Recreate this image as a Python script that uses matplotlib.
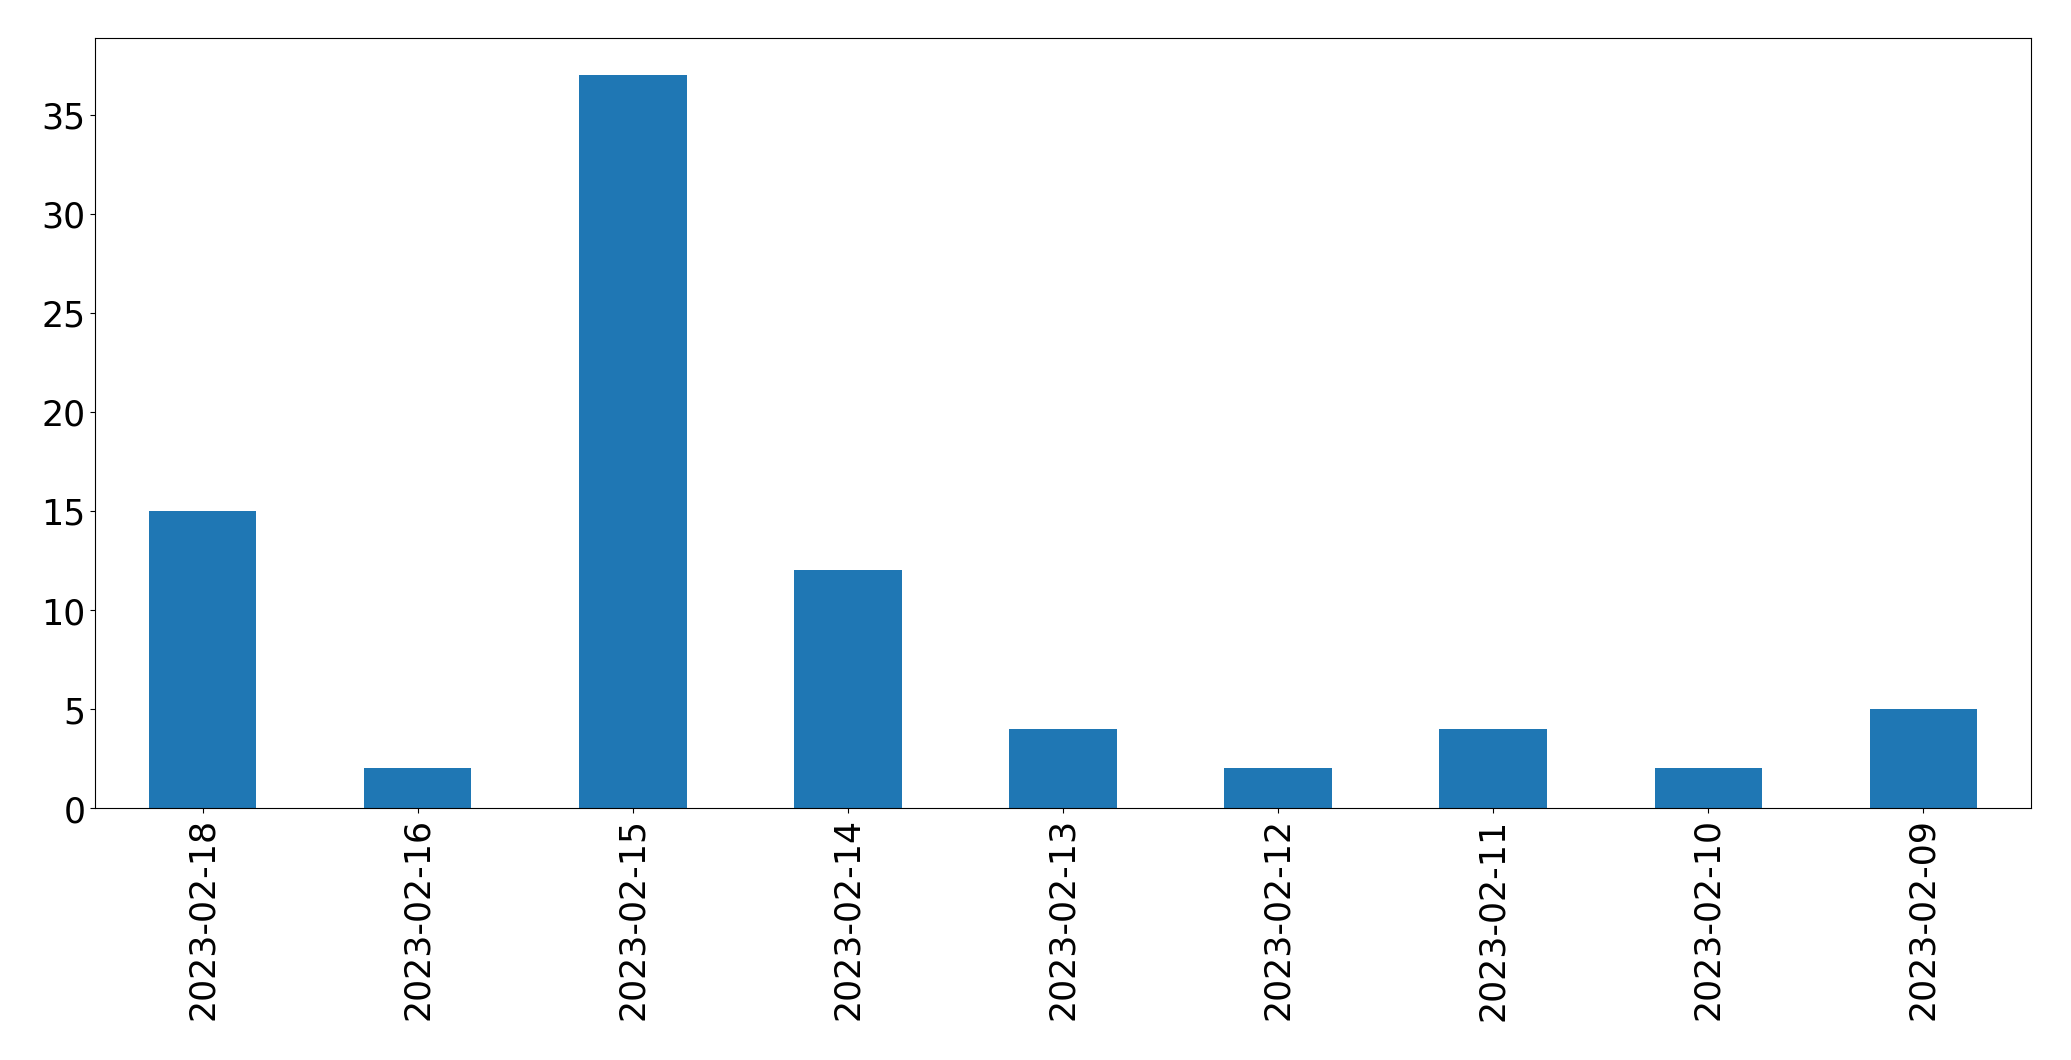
import matplotlib
matplotlib.use("Agg")
import matplotlib.pyplot as plt
import pandas as pd

# counts per day, newest first
dates = ["2023-02-18", "2023-02-16", "2023-02-15", "2023-02-14", "2023-02-13",
         "2023-02-12", "2023-02-11", "2023-02-10", "2023-02-09"]
counts = [15, 2, 37, 12, 4, 2, 4, 2, 5]

s = pd.Series(counts, index=dates)

fig = plt.figure(figsize=(20.71, 10.605), dpi=100)
ax = fig.add_axes([95 / 2071, 1 - 809 / 1061, (2031 - 95) / 2071, (809 - 39) / 1061])
s.plot(kind="bar", ax=ax, color="#1f77b4")
ax.tick_params(axis="both", labelsize=25)
fig.savefig("out.png", dpi=100)
